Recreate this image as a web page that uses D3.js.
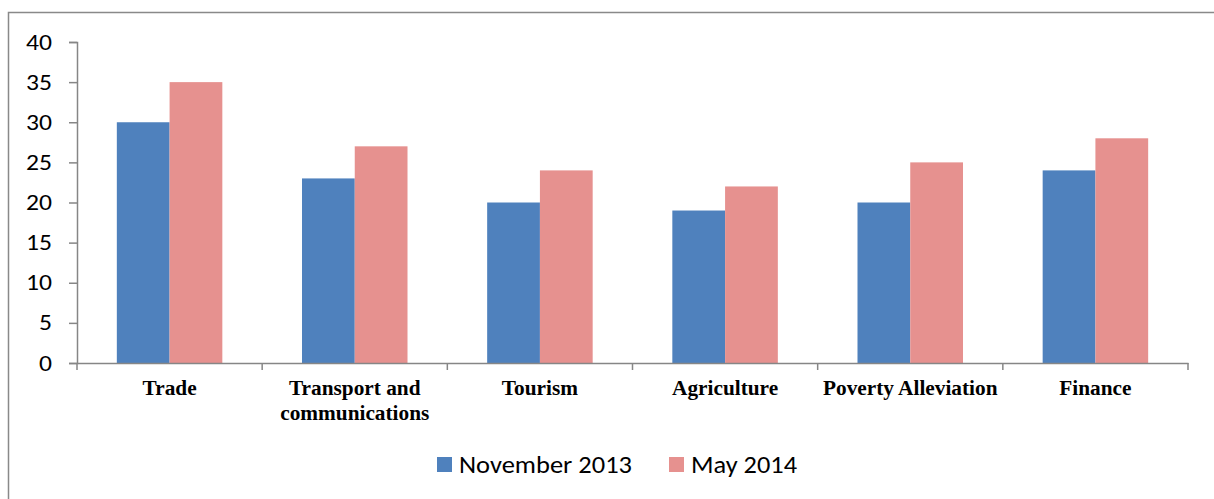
<!DOCTYPE html>
<html><head><meta charset="utf-8">
<script src="https://cdn.jsdelivr.net/npm/d3@7/dist/d3.min.js"></script>
<style>body{margin:0;background:#fff}svg{display:block}</style>
</head><body>
<script>
const categories = ["Trade", "Transport and communications", "Tourism", "Agriculture", "Poverty Alleviation", "Finance"];
const categoryLines = [["Trade"], ["Transport and", "communications"], ["Tourism"], ["Agriculture"], ["Poverty Alleviation"], ["Finance"]];
const seriesNames = ["November 2013", "May 2014"];
const nov2013 = [30, 23, 20, 19, 20, 24];
const may2014 = [35, 27, 24, 22, 25, 28];
const yTicks = [0, 5, 10, 15, 20, 25, 30, 35, 40];
const colors = ["#4F81BD", "#E6918F"];

const W = 1214, H = 499;
const svg = d3.select("body").append("svg").attr("width", W).attr("height", H);

// chart border
svg.append("rect").attr("x", 8.5).attr("y", 12.5).attr("width", 1240).attr("height", 520)
  .attr("fill", "none").attr("stroke", "#898989").attr("stroke-width", 1.5);

const x0 = 77, x1 = 1188, yTop = 42, yBot = 363;
const x = d3.scaleBand().domain(categories).range([x0, x1]).paddingInner(0).paddingOuter(0);
const xs = d3.scaleBand().domain(seriesNames).range([0, x.bandwidth()]).paddingInner(0).paddingOuter(0.755);
const y = d3.scaleLinear().domain([0, 40]).range([yBot, yTop]);

const data = categories.map((c, i) => ({c, vals: [nov2013[i], may2014[i]]}));

const g = svg.append("g");
g.selectAll("g.grp").data(data).join("g").attr("class", "grp")
  .attr("transform", d => `translate(${x(d.c)},0)`)
  .selectAll("rect").data(d => d.vals.map((v, j) => ({v, s: seriesNames[j], j})))
  .join("rect")
  .attr("x", d => xs(d.s)).attr("width", xs.bandwidth())
  .attr("y", d => y(d.v)).attr("height", d => yBot - y(d.v))
  .attr("fill", d => colors[d.j]);

// y axis
const yAxis = svg.append("g").attr("transform", `translate(${x0},0)`)
  .call(d3.axisLeft(y).tickValues(yTicks).tickSize(8).tickPadding(17));
yAxis.select(".domain").attr("stroke", "#868686").attr("stroke-width", 1.5);
yAxis.selectAll(".tick line").attr("stroke", "#868686").attr("stroke-width", 1.5);
yAxis.selectAll(".tick text").attr("font-family", "Carlito, Lato, 'Open Sans', sans-serif")
  .attr("font-size", 22).attr("fill", "#000")
  .attr("textLength", d => String(d).length * 13).attr("lengthAdjust", "spacingAndGlyphs");

// x axis
const xAxis = svg.append("g").attr("transform", `translate(0,${yBot})`)
  .call(d3.axisBottom(x).tickSize(0).tickFormat(""));
xAxis.select(".domain").attr("stroke", "#868686").attr("stroke-width", 1.5);
xAxis.selectAll(".tick").remove();
const bounds = categories.map(c => x(c)).concat([x1]);
xAxis.selectAll("line.b").data(bounds).join("line").attr("class", "b")
  .attr("x1", d => d).attr("x2", d => d).attr("y1", 0).attr("y2", 7)
  .attr("stroke", "#868686").attr("stroke-width", 1.5);

// x labels
const lab = svg.append("g");
data.forEach((d, i) => {
  const t = lab.append("text").attr("x", x(d.c) + x.bandwidth() / 2).attr("y", 395)
    .attr("text-anchor", "middle").attr("font-family", "'Liberation Serif', 'Times New Roman', serif")
    .attr("font-weight", "bold").attr("font-size", 21.3).attr("fill", "#000");
  categoryLines[i].forEach((ln, k) => t.append("tspan").attr("x", x(d.c) + x.bandwidth() / 2).attr("dy", k ? 24.5 : 0).text(ln));
});

// legend
const leg = svg.append("g");
const legX = [437, 669];
const legLen = [173, 106];
seriesNames.forEach((s, i) => {
  leg.append("rect").attr("x", legX[i]).attr("y", 457).attr("width", 15).attr("height", 15).attr("fill", colors[i]);
  leg.append("text").attr("x", legX[i] + 22).attr("y", 473).text(s)
    .attr("textLength", legLen[i]).attr("lengthAdjust", "spacingAndGlyphs")
    .attr("font-family", "Carlito, Lato, 'Open Sans', sans-serif").attr("font-size", 23.5).attr("fill", "#000");
});
</script>
</body></html>
